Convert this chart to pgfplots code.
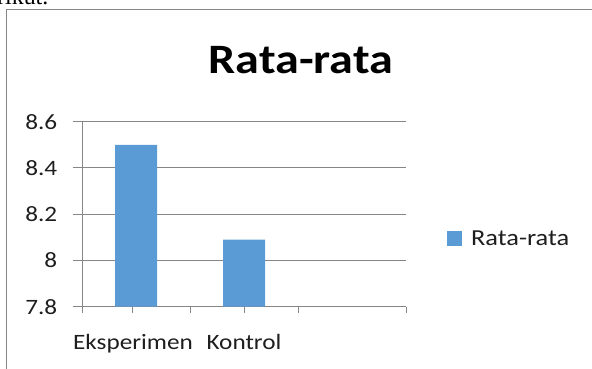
\documentclass[border=0pt]{standalone}
\usepackage{pgfplots}
\pgfplotsset{compat=1.18}
\usepackage{fontspec}
\setmainfont{Carlito}[FakeStretch=1.15]
\newfontfamily\seriffont{Liberation Serif}
\definecolor{gridc}{RGB}{134,134,134}
\definecolor{barblue}{RGB}{91,155,213}
\definecolor{txt}{RGB}{30,30,30}
\begin{document}
\begin{tikzpicture}[x=1bp,y=1bp]
\useasboundingbox (0,0) rectangle (592,368);
\clip (0,0) rectangle (592,368);
\node[anchor=base west, inner sep=0pt, font=\seriffont\fontsize{24}{24}\selectfont] at (-3,364) {rikut.};
\draw[gridc, line width=1bp] (6.5,358) rectangle (700,-50);
\begin{axis}[
  at={(82bp,61.3bp)}, anchor=south west,
  scale only axis, width=324bp, height=185bp,
  xmin=-0.5, xmax=2.5, ymin=7.8, ymax=8.6,
  ytick={7.8,8,8.2,8.4,8.6},
  yticklabels={7.8,8,8.2,8.4,8.6},
  xtick={-0.5,0.5,1.5,2.5}, xticklabels={},
  extra x ticks={-0.028,1.0},
  extra x tick labels={Eksperimen,Kontrol},
  extra x tick style={/pgfplots/major tick length=0pt, grid=none},
  ymajorgrids, grid style={gridc, line width=1bp},
  axis x line*=bottom, axis y line*=left,
  axis line style={gridc, line width=1bp, -},
  tick align=outside,
  xtick style={gridc, line width=1bp, /pgfplots/major tick length=6bp},
  ytick style={gridc, line width=1bp, /pgfplots/major tick length=9.5bp},
  tick label style={font=\fontsize{22}{22}\selectfont, text=txt},
  yticklabel style={xshift=-17bp},
  xticklabel style={yshift=-24bp},
  title={\textbf{Rata-rata}},
  title style={at={(axis description cs:0.676,1.228)}, anchor=base, font=\fontsize{42}{42}\selectfont, text=black, inner sep=0pt},
  legend style={at={(axis description cs:1.1265,0.366)}, anchor=west, draw=none, fill=none, inner sep=0pt, font=\fontsize{23}{23}\selectfont, text=txt},
  legend image code/.code={\fill[barblue] (0bp,-7.5bp) rectangle (15bp,7.5bp); \path (22bp,0bp);},
  clip=true,
]
\addplot[ybar, bar width=42bp, fill=barblue, draw=none] coordinates {(0,8.5) (1,8.09)};
\addlegendentry{Rata-rata}
\end{axis}
\end{tikzpicture}
\end{document}
